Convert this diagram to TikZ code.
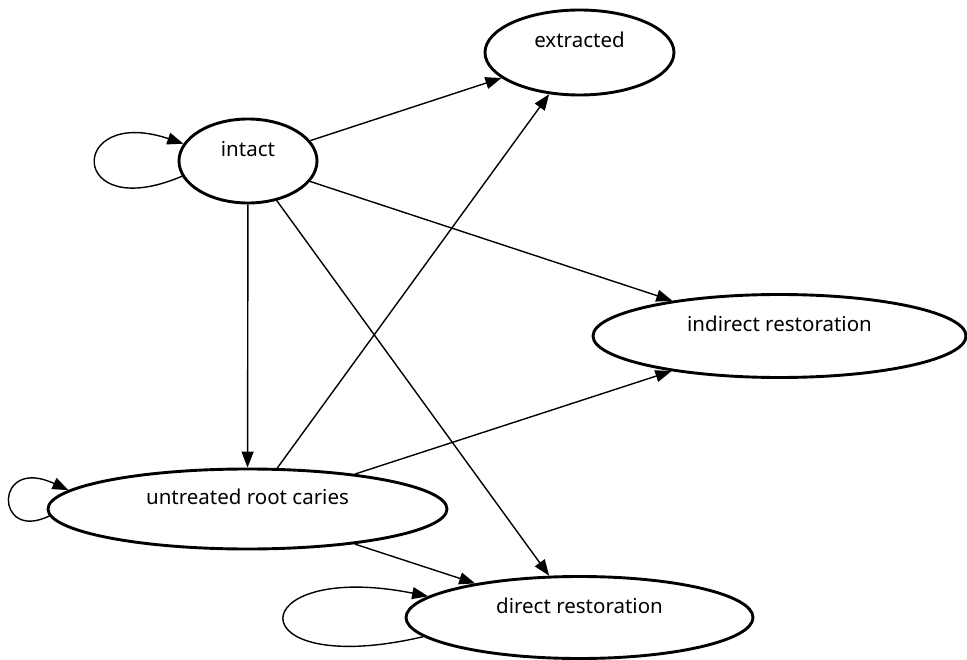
\documentclass[tikz,border=0pt]{standalone}
\usepackage{fontspec}
\setmainfont{Noto Sans}
\usetikzlibrary{arrows.meta,shapes.geometric}
\begin{document}
\begin{tikzpicture}[x=1pt,y=-1pt,
  state/.style={ellipse,draw,line width=2.9pt,inner sep=0pt,
    font=\fontsize{20.5}{24}\selectfont,text height=16pt,text depth=25pt},
  arr/.style={line width=1.4pt,-{Triangle[length=16pt,width=12pt]}}]
\useasboundingbox (0,0) rectangle (967,660);
\node[state,minimum width=138pt,minimum height=84pt] (intact) at (248,161) {intact};
\node[state,minimum width=189pt,minimum height=85pt] (extracted) at (579.5,52.5) {extracted};
\node[state,minimum width=373pt,minimum height=83pt] (indirect) at (779.5,336) {indirect restoration};
\node[state,minimum width=399pt,minimum height=80pt] (untreated) at (247.5,509) {untreated root caries};
\node[state,minimum width=347pt,minimum height=82pt] (direct) at (579.5,617.5) {direct restoration};
% straight transitions
\draw[arr] (intact) -- (extracted);
\draw[arr] (intact) -- (indirect);
\draw[arr] (intact) -- (untreated);
\draw[arr] (intact) -- (direct);
\draw[arr] (untreated) -- (extracted);
\draw[arr] (untreated) -- (indirect);
\draw[arr] (untreated) -- (direct);
% self loops
\draw[arr] (intact.193) .. controls +(-115,49) and +(-116,-39) .. (intact.165);
\draw[arr] (untreated.182.6) .. controls +(-55,27) and +(-75,-35) .. (untreated.174);
\draw[arr] (direct.187) .. controls +(-189,44) and +(-187,-37) .. (direct.172);
\end{tikzpicture}
\end{document}
